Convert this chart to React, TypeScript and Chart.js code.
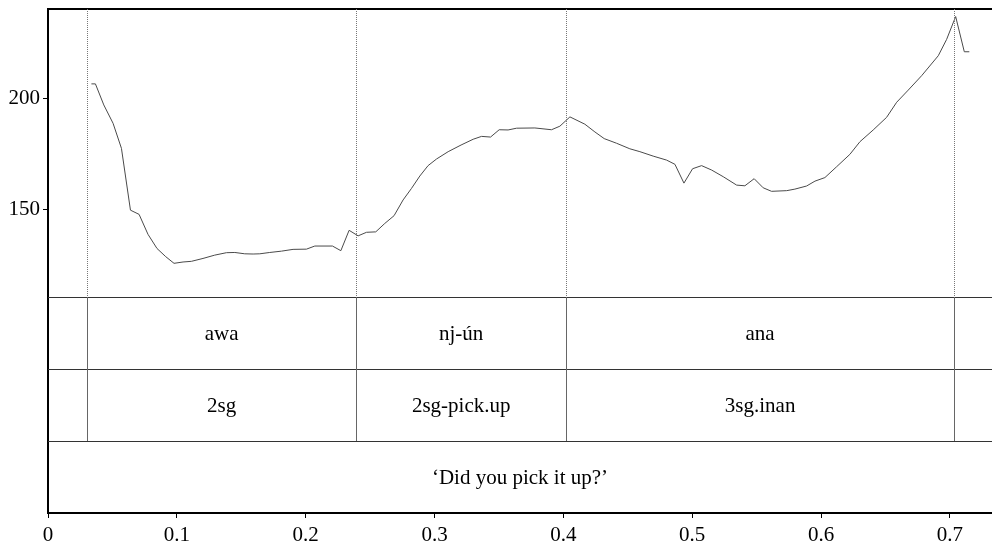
import React, { useEffect, useRef } from "react";
import { Chart, registerables } from "chart.js";

Chart.register(...registerables);

// F0 track (seconds, Hz)
const timeS = [
  0.0337, 0.0368, 0.0433, 0.0505, 0.0570, 0.0640, 0.0707, 0.0776, 0.0846, 0.0914,
  0.0978, 0.1048, 0.1113, 0.1203, 0.1294, 0.1385, 0.1450, 0.1527, 0.1592, 0.1644,
  0.1721, 0.1812, 0.1902, 0.2006, 0.2071, 0.2208, 0.2273, 0.2337, 0.2407, 0.2472,
  0.2544, 0.2614, 0.2686, 0.2756, 0.2821, 0.2886, 0.2950, 0.3016, 0.3106, 0.3206,
  0.3300, 0.3365, 0.3435, 0.3502, 0.3571, 0.3637, 0.3779, 0.3908, 0.3973, 0.4051,
  0.4167, 0.4245, 0.4317, 0.4413, 0.4516, 0.4594, 0.4697, 0.4801, 0.4866, 0.4936,
  0.5003, 0.5073, 0.5151, 0.5241, 0.5345, 0.5409, 0.5481, 0.5551, 0.5616, 0.5733,
  0.5797, 0.5888, 0.5953, 0.6030, 0.6121, 0.6224, 0.6302, 0.6405, 0.6509, 0.6587,
  0.6677, 0.6781, 0.6910, 0.6975, 0.7045, 0.7112, 0.7151,
];
const f0Hz = [
  206.5, 206.5, 197.0, 188.7, 177.4, 149.5, 147.6, 138.6, 132.2, 128.5,
  125.5, 126.1, 126.4, 127.7, 129.2, 130.3, 130.4, 129.8, 129.7, 129.8,
  130.4, 131.0, 131.8, 131.9, 133.3, 133.3, 131.2, 140.4, 137.9, 139.5,
  139.7, 143.5, 147.0, 154.1, 159.3, 164.9, 169.6, 172.6, 175.9, 178.9,
  181.5, 182.8, 182.5, 185.8, 185.7, 186.5, 186.6, 185.8, 187.4, 191.6,
  188.3, 184.8, 181.8, 179.7, 177.2, 175.9, 173.9, 172.1, 170.2, 161.7,
  168.2, 169.6, 167.6, 164.6, 160.8, 160.5, 163.7, 159.6, 158.0, 158.3,
  159.0, 160.4, 162.6, 164.2, 169.1, 174.7, 180.4, 185.7, 191.4, 198.2,
  203.7, 210.2, 219.2, 226.6, 236.9, 221.0, 221.0,
];

// Interval tiers
const boundaries = [0.03, 0.2394, 0.402, 0.7034];
const words = ["awa", "nj-ún", "ana"];
const glosses = ["2sg", "2sg-pick.up", "3sg.inan"];
const translation = "‘Did you pick it up?’";

// Axes
const timeTicks = [0, 0.1, 0.2, 0.3, 0.4, 0.5, 0.6, 0.7];
const pitchTicks = [150, 200];
const TIME_MAX = 0.7327;
const F0_MIN = 110.3;
const F0_MAX = 240.3;

const SERIF = '"Liberation Serif", "Times New Roman", serif';
const FONT_SIZE = 21;

const tierPlugin = {
  id: "tierPlugin",
  afterDatasetsDraw(chart: any) {
    const { ctx, chartArea, scales } = chart;
    const xs = scales.x;
    const ps = scales.y;
    const ts = scales.tier;
    const left = chartArea.left;
    const right = chartArea.right;
    ctx.save();

    // frame top
    ctx.strokeStyle = "#000";
    ctx.lineWidth = 2;
    ctx.beginPath();
    ctx.moveTo(left, ps.top);
    ctx.lineTo(right, ps.top);
    ctx.stroke();

    // dotted boundary markers across the pitch panel
    ctx.strokeStyle = "#777";
    ctx.lineWidth = 1;
    ctx.setLineDash([1, 1]);
    for (const b of boundaries) {
      const px = Math.round(xs.getPixelForValue(b)) + 0.5;
      ctx.beginPath();
      ctx.moveTo(px, ps.top);
      ctx.lineTo(px, ps.bottom);
      ctx.stroke();
    }
    ctx.setLineDash([]);

    // tier separators
    ctx.strokeStyle = "#333";
    ctx.lineWidth = 1;
    for (const v of [0, 1, 2]) {
      const py = Math.round(ts.getPixelForValue(v)) + 0.5;
      ctx.beginPath();
      ctx.moveTo(left, py);
      ctx.lineTo(right, py);
      ctx.stroke();
    }

    // interval boundaries in the word and gloss tiers
    ctx.strokeStyle = "#666";
    for (const b of boundaries) {
      const px = Math.round(xs.getPixelForValue(b)) + 0.5;
      ctx.beginPath();
      ctx.moveTo(px, ts.getPixelForValue(0));
      ctx.lineTo(px, ts.getPixelForValue(2));
      ctx.stroke();
    }

    // labels
    ctx.fillStyle = "#000";
    ctx.font = `${FONT_SIZE}px ${SERIF}`;
    ctx.textAlign = "center";
    ctx.textBaseline = "middle";
    const rows = [words, glosses];
    rows.forEach((labels, r) => {
      const cy = ts.getPixelForValue(r + 0.5) + 1;
      labels.forEach((lab, i) => {
        const cx = (xs.getPixelForValue(boundaries[i]) + xs.getPixelForValue(boundaries[i + 1])) / 2;
        ctx.fillText(lab, cx, cy);
      });
    });
    const tcx = (xs.getPixelForValue(0) + xs.getPixelForValue(TIME_MAX)) / 2;
    ctx.fillText(translation, tcx, ts.getPixelForValue(2.5) + 1);

    ctx.restore();
  },
};

export default function App() {
  const canvasRef = useRef<HTMLCanvasElement | null>(null);

  useEffect(() => {
    const canvas = canvasRef.current;
    if (!canvas) return;
    const chart = new Chart(canvas, {
      type: "line",
      data: {
        datasets: [
          {
            data: timeS.map((t, i) => ({ x: t, y: f0Hz[i] })),
            borderColor: "#4a4a4a",
            borderWidth: 1,
            pointRadius: 0,
            tension: 0,
            fill: false,
            yAxisID: "y",
          },
        ],
      },
      options: {
        animation: false,
        responsive: false,
        devicePixelRatio: 1,
        layout: { padding: { top: 9, left: 0, right: 0, bottom: 0 } },
        plugins: {
          legend: { display: false },
          tooltip: { enabled: false },
        },
        scales: {
          x: {
            type: "linear",
            position: "bottom",
            min: 0,
            max: TIME_MAX,
            afterBuildTicks: (s: any) => {
              s.ticks = timeTicks.map((v) => ({ value: v }));
            },
            afterFit: (s: any) => {
              s.height = 37;
            },
            ticks: {
              color: "#000",
              padding: 5,
              maxRotation: 0,
              autoSkip: false,
              font: { family: SERIF, size: FONT_SIZE },
              callback: (v: any) => String(Number(Number(v).toFixed(1))),
            },
            grid: { drawOnChartArea: false, drawTicks: true, tickLength: 5, color: "#000", lineWidth: 1 },
            border: { display: true, color: "#000", width: 2 },
          },
          // text tiers, stacked under the pitch panel
          tier: {
            type: "linear",
            position: "left",
            stack: "panel",
            stackWeight: 3,
            min: 0,
            max: 3,
            reverse: true,
            afterFit: (s: any) => {
              s.width = 48;
              s.paddingTop = 0;
              s.paddingBottom = 0;
            },
            ticks: { display: false },
            grid: { display: false },
            border: { display: true, color: "#000", width: 2 },
          },
          y: {
            type: "linear",
            position: "left",
            stack: "panel",
            stackWeight: 4,
            min: F0_MIN,
            max: F0_MAX,
            afterBuildTicks: (s: any) => {
              s.ticks = pitchTicks.map((v) => ({ value: v }));
            },
            afterFit: (s: any) => {
              s.width = 48;
              s.paddingTop = 0;
              s.paddingBottom = 0;
            },
            ticks: {
              color: "#000",
              padding: 3,
              autoSkip: false,
              font: { family: SERIF, size: FONT_SIZE },
            },
            grid: { drawOnChartArea: false, drawTicks: true, tickLength: 5, color: "#000", lineWidth: 1 },
            border: { display: true, color: "#000", width: 2 },
          },
        },
      },
      plugins: [tierPlugin],
    });
    return () => chart.destroy();
  }, []);

  return (
    <div style={{ position: "absolute", left: 0, top: 0, width: 992, height: 550, background: "#fff" }}>
      <canvas ref={canvasRef} width={992} height={550} style={{ display: "block" }} />
    </div>
  );
}
